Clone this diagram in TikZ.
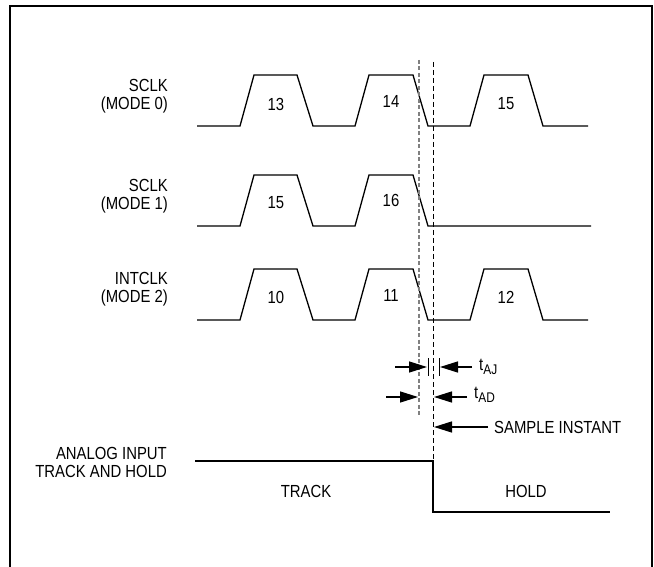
\documentclass[tikz,border=0pt]{standalone}
\usepackage{fontspec}
\setmainfont[FakeStretch=0.85]{Liberation Sans}
\usetikzlibrary{arrows.meta}
\newcommand{\mysub}[1]{\raisebox{-3.5pt}{\fontsize{14}{14}\selectfont #1}}
\begin{document}
\begin{tikzpicture}[x=1pt,y=-1pt,
  wave/.style={line width=1.3pt,line join=miter},
  lbl/.style={font=\fontsize{17.5}{18}\selectfont,inner sep=0pt},
  num/.style={font=\fontsize{17.5}{18}\selectfont,inner sep=0pt},
  arr/.style={line width=1.4pt,-{Triangle[length=18pt,width=11pt]}},
  bar/.style={line width=0.9pt}]
\useasboundingbox (0,0) rectangle (654,567);
\draw[line width=2pt] (10,600) -- (10,6) -- (652,6) -- (652,600);
% waveforms
\draw[wave] (197,126) -- (240,126) -- (254,75) -- (297,75) -- (313,126) -- (355,126) -- (369,75) -- (413,75) -- (428,126) -- (470,126) -- (484,75) -- (528,75) -- (543,126) -- (588,126);
\draw[wave] (197,226) -- (240,226) -- (254,175) -- (297,175) -- (313,226) -- (355,226) -- (369,175) -- (413,175) -- (428,226) -- (591,226);
\draw[wave] (197,320) -- (240,320) -- (254,269) -- (297,269) -- (313,320) -- (355,320) -- (369,269) -- (413,269) -- (428,320) -- (470,320) -- (484,269) -- (528,269) -- (543,320) -- (588,320);
\draw[wave] (195,461) -- (433,461) -- (433,512) -- (610,512);
% pulse numbers
\node[num] (n13) at (276,104) {13};
\node[num] (n14) at (391,101) {14};
\node[num] (n15a) at (506,104) {15};
\node[num] (n15b) at (276,203) {15};
\node[num] (n16) at (391,200) {16};
\node[num] (n10) at (276,297) {10};
\node[num] (n11) at (391,295) {11};
\node[num] (n12) at (506,297) {12};
% left labels
\node[lbl,align=right,anchor=east] (l0) at (168,96) {SCLK\\(MODE 0)};
\node[lbl,align=right,anchor=east] (l1) at (168,196) {SCLK\\(MODE 1)};
\node[lbl,align=right,anchor=east] (l2) at (168,289) {INTCLK\\(MODE 2)};
\node[lbl,align=right,anchor=east] (l3) at (167,462) {ANALOG INPUT\\TRACK AND HOLD};
\node[lbl] (track) at (306,491) {TRACK};
\node[lbl] (hold) at (526,491) {HOLD};
% dashed lines
\coordinate (g1) at (419,60); \coordinate (g2) at (419,415);
\coordinate (b1) at (433,62); \coordinate (b2) at (433,461);
\draw[gray,line width=1.3pt,dash pattern=on 4pt off 2.5pt] (g1) -- (g2);
\draw[black,line width=1pt,dash pattern=on 5pt off 3pt] (b1) -- (b2);
% tAJ
\coordinate (j1) at (428,358); \coordinate (j2) at (428,376);
\coordinate (j3) at (439,358); \coordinate (j4) at (439,376);
\draw[bar] (j1) -- (j2);
\draw[bar] (j3) -- (j4);
\coordinate (a1) at (395,367); \coordinate (a2) at (427,367);
\coordinate (a3) at (472,367); \coordinate (a4) at (440,367);
\draw[arr] (a1) -- (a2);
\draw[arr] (a3) -- (a4);
\node[lbl,anchor=west] (taj) at (479,367) {t\mysub{AJ}};
% tAD
\coordinate (d1) at (386,397); \coordinate (d2) at (418,397);
\coordinate (d3) at (467,397); \coordinate (d4) at (434,397);
\draw[arr] (d1) -- (d2);
\draw[arr] (d3) -- (d4);
\node[lbl,anchor=west] (tad) at (474,395) {t\mysub{AD}};
% sample instant
\coordinate (s1) at (488,427); \coordinate (s2) at (434,427);
\draw[arr] (s1) -- (s2);
\node[lbl,anchor=west] (si) at (494,427) {SAMPLE INSTANT};
\end{tikzpicture}
\end{document}
